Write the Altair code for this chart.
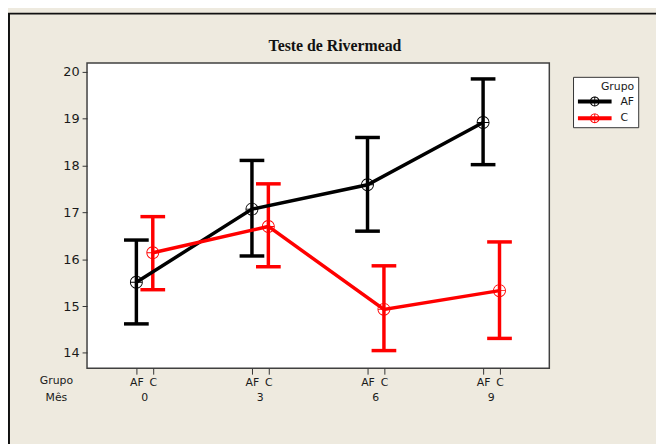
import altair as alt
import pandas as pd

# ---- data ----
months = ["0", "3", "6", "9"]
groups = ["AF", "C"]
af_mean = [15.51, 17.07, 17.59, 18.92]
af_low = [14.62, 16.07, 16.60, 18.02]
af_high = [16.41, 18.11, 18.60, 19.85]
c_mean = [16.14, 16.70, 14.93, 15.33]
c_low = [15.35, 15.84, 14.05, 14.31]
c_high = [16.91, 17.61, 15.86, 16.37]
row_labels = ["Grupo", "Mês"]
y_ticks = [14, 15, 16, 17, 18, 19, 20]
colors = ["#000000", "#FF0000"]
title_text = ["Teste de Rivermead"]
legend_title = "Grupo"

OFFSET = 0.142  # cluster offset of group C inside each month

rows = []
for i, m in enumerate(months):
    rows.append(dict(Grupo="AF", Mes=m, pos=i, mean=af_mean[i], lo=af_low[i], hi=af_high[i]))
    rows.append(dict(Grupo="C", Mes=m, pos=i + OFFSET, mean=c_mean[i], lo=c_low[i], hi=c_high[i]))
df = pd.DataFrame(rows)
df["G"] = df["Grupo"]  # copy used for marks without legend
month_df = pd.DataFrame({"Mes": months, "pos": [i + OFFSET / 2 for i in range(len(months))]})
tick_positions = [float(p) for p in df["pos"]]

W, H = 468, 309
FONT = "DejaVu Sans"
TXT = "#1a1a1a"

# marker: thin ring with crosshair (filled path)
MARK = ("M -1 0 A 1 1 0 1 1 1 0 A 1 1 0 1 1 -1 0 Z "
        "M -0.86 0 A 0.86 0.86 0 1 0 0.86 0 A 0.86 0.86 0 1 0 -0.86 0 Z "
        "M -0.86 -0.075 L 0.86 -0.075 L 0.86 0.075 L -0.86 0.075 Z "
        "M -0.075 -0.86 L 0.075 -0.86 L 0.075 0.86 L -0.075 0.86 Z")
# legend symbol: thick line + thin ring + crosshair
LEG = ("M -3 -0.35 L 3 -0.35 L 3 0.35 L -3 0.35 Z "
       "M -0.88 0 A 0.88 0.88 0 1 1 0.88 0 A 0.88 0.88 0 1 1 -0.88 0 Z "
       "M -0.72 0 A 0.72 0.72 0 1 0 0.72 0 A 0.72 0.72 0 1 0 -0.72 0 Z "
       "M -0.08 -0.88 L 0.08 -0.88 L 0.08 0.88 L -0.08 0.88 Z")

xscale = alt.Scale(domain=[-0.427, 3.573], nice=False, zero=False)
yscale = alt.Scale(domain=[13.673, 20.19], nice=False, zero=False)
cscale = alt.Scale(domain=groups, range=colors)

x_enc = alt.X("pos:Q", scale=xscale,
              axis=alt.Axis(values=tick_positions, title=None, grid=False, domain=False,
                            labelExpr="abs(datum.value - round(datum.value)) < 0.01 ? 'AF' : 'C'",
                            tickSize=6, tickColor="#333", labelPadding=2, labelFontSize=11,
                            labelFont=FONT, labelColor=TXT, labelFlush=False))
y_axis = alt.Axis(values=y_ticks, title=None, grid=False, domain=False, tickSize=5,
                  tickColor="#333", labelPadding=3, labelFontSize=13, labelFont=FONT,
                  labelColor=TXT)

base = alt.Chart(df)
stroke_enc = alt.Stroke("G:N", scale=cscale, legend=None)
fill_enc = alt.Fill("G:N", scale=cscale, legend=None)

bars = base.mark_rule(strokeWidth=3.5).encode(
    x=x_enc, y=alt.Y("lo:Q", scale=yscale, axis=y_axis), y2="hi:Q", stroke=stroke_enc)
cap_lo = base.mark_tick(orient="horizontal", size=25, thickness=3.5, opacity=1).encode(
    x="pos:Q", y="lo:Q", fill=fill_enc)
cap_hi = base.mark_tick(orient="horizontal", size=25, thickness=3.5, opacity=1).encode(
    x="pos:Q", y="hi:Q", fill=fill_enc)
lines = base.mark_line(strokeWidth=3.5).encode(
    x="pos:Q", y="mean:Q", stroke=stroke_enc, detail="G:N", order="pos:Q")
points = base.mark_point(shape=MARK, filled=True, size=169, opacity=1).encode(
    x="pos:Q", y="mean:Q",
    color=alt.Color("Grupo:N", scale=cscale,
                    legend=alt.Legend(title=legend_title, orient="none",
                                      legendX=492, legendY=14,
                                      symbolType=LEG, symbolSize=129, symbolStrokeWidth=0,
                                      symbolOffset=12, labelOffset=20,
                                      fillColor="white", strokeColor="#333", padding=4,
                                      labelFontSize=11, labelFont=FONT, labelColor=TXT,
                                      titleFontSize=11, titleFont=FONT, titleColor=TXT,
                                      titleFontWeight="normal", titleAnchor="end",
                                      rowPadding=6, titlePadding=4)))

month_text = alt.Chart(month_df).mark_text(fontSize=11, font=FONT, color=TXT, baseline="middle").encode(
    x="pos:Q", y=alt.value(H + 30), text="Mes:N")

row_df = pd.DataFrame({"label": row_labels, "ypix": [H + 13, H + 30]})
row_text = alt.Chart(row_df).mark_text(fontSize=11, font=FONT, color=TXT, baseline="middle", align="center").encode(
    x=alt.value(-31), y=alt.Y("ypix:Q", scale=None), text="label:N")

title_mark = alt.Chart(pd.DataFrame({"t": title_text})).mark_text(
    font="Liberation Serif", fontSize=16, fontWeight="bold", color="#111",
    baseline="alphabetic", align="center").encode(
    x=alt.value(W / 2 + 17), y=alt.value(-12), text="t:N")

# figure frame (top and left dark edges)
frame_l = alt.Chart(pd.DataFrame({"a": [0]})).mark_rule(color="#111", strokeWidth=2).encode(
    x=alt.value(-79), y=alt.value(-50), y2=alt.value(H + 80))
frame_t = alt.Chart(pd.DataFrame({"a": [0]})).mark_rule(color="#111", strokeWidth=2).encode(
    x=alt.value(-80), x2=alt.value(W + 120), y=alt.value(-50))

chart = alt.layer(points, bars, cap_lo, cap_hi, lines, month_text, row_text, title_mark,
                  frame_l, frame_t).properties(
    width=W, height=H,
    autosize=alt.AutoSizeParams(type="none"),
    padding={"left": 80, "top": 53, "right": 108, "bottom": 74},
).configure(background="#EEEADF").configure_view(
    fill="white", stroke="#404040", strokeWidth=1.5
)

chart.save("out.html", embed_options={"renderer": "svg", "actions": False})
